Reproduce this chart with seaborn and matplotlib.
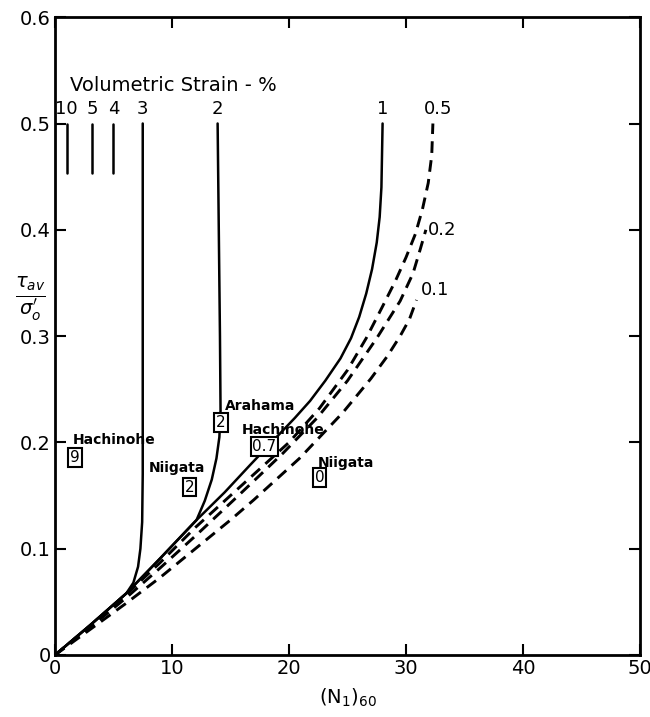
import numpy as np
import pandas as pd
import seaborn as sns
import matplotlib.pyplot as plt
import matplotlib.transforms as mtrans

# --- curvas de deformação volumétrica (leitura do gráfico) ---
c1_x = [0, 3, 6.1, 9, 12.1, 14.5, 16.7, 19.2, 20.5, 21.8, 23.1, 24.4, 25.3, 26.0, 26.6, 27.1, 27.5, 27.75, 27.9, 28.0]
c1_y = [0, 0.028, 0.058, 0.091, 0.127, 0.153, 0.179, 0.208, 0.223, 0.239, 0.258, 0.279, 0.298, 0.318, 0.340, 0.363, 0.388, 0.412, 0.440, 0.500]

c2_x = [0, 3, 6.1, 9, 12.1, 12.8, 13.4, 13.8, 14.05, 14.15, 14.1, 14.0, 13.9]
c2_y = [0, 0.028, 0.058, 0.091, 0.127, 0.145, 0.165, 0.185, 0.205, 0.230, 0.300, 0.400, 0.500]

c3_x = [0, 3, 6.1, 6.7, 7.1, 7.3, 7.45, 7.5, 7.5]
c3_y = [0, 0.028, 0.058, 0.068, 0.083, 0.100, 0.125, 0.170, 0.500]

d05_x = [0, 3, 6, 9, 12, 15, 17.5, 20, 22.6, 25, 26.6, 28.0, 29.1, 30.0, 30.8, 31.4, 31.9, 32.2, 32.3]
d05_y = [0, 0.027, 0.056, 0.087, 0.120, 0.150, 0.175, 0.200, 0.232, 0.268, 0.298, 0.328, 0.352, 0.374, 0.396, 0.419, 0.444, 0.470, 0.500]

d02_x = [0, 3, 6, 9, 12, 15.2, 17.5, 19.5, 22.4, 25, 27.5, 29.5, 30.6, 31.2, 31.7]
d02_y = [0, 0.026, 0.053, 0.082, 0.112, 0.145, 0.169, 0.190, 0.223, 0.258, 0.298, 0.333, 0.359, 0.381, 0.400]

d01_x = [0, 3, 6, 9, 12, 15, 17, 20.9, 24.6, 27, 28.4, 29.5, 30.3, 30.9]
d01_y = [0, 0.024, 0.048, 0.073, 0.100, 0.127, 0.146, 0.185, 0.228, 0.260, 0.281, 0.300, 0.316, 0.334]

# traços curtos para 10, 5 e 4 %
short_x = [1.0, 3.2, 5.0]
short_labels = ["10", "5", "4"]
short_y = [0.453, 0.500]

# --- casos de campo ---
site_names = ["Hachinohe", "Niigata", "Arahama", "Hachinohe", "Niigata"]
site_name_x = [1.5, 8.0, 14.5, 16.0, 22.5]
site_name_y = [0.202, 0.176, 0.234, 0.212, 0.181]
site_vals = ["9", "2", "2", "0.7", "0"]
site_x = [1.7, 11.5, 14.2, 17.9, 22.6]
site_y = [0.186, 0.158, 0.219, 0.196, 0.167]

x_ticks = [0, 10, 20, 30, 40, 50]
y_ticks = [0, 0.1, 0.2, 0.3, 0.4, 0.5, 0.6]
y_ticklabels = ["0", "0.1", "0.2", "0.3", "0.4", "0.5", "0.6"]

# === plot ===
sns.set_style("ticks")
plt.rcParams["font.family"] = ["DejaVu Sans"]
for k in ["text.color", "axes.labelcolor", "xtick.color", "ytick.color", "axes.edgecolor"]:
    plt.rcParams[k] = "black"

fig = plt.figure(figsize=(6.5, 7.17), dpi=100)
ax = fig.add_axes([0.0846, 0.0865, 0.9, 0.8895])

solid = [(c1_x, c1_y), (c2_x, c2_y), (c3_x, c3_y)]
dashed = [(d05_x, d05_y), (d02_x, d02_y), (d01_x, d01_y)]

for cx, cy in solid:
    sns.lineplot(x=cx, y=cy, sort=False, color="black", lw=1.8, ax=ax, estimator=None)
for cx, cy in dashed:
    sns.lineplot(x=cx, y=cy, sort=False, color="black", lw=2.1, ax=ax,
                 estimator=None).lines[-1].set_dashes((4, 2.5))

for sx in short_x:
    sns.lineplot(x=[sx, sx], y=short_y, color="black", lw=1.8, ax=ax, estimator=None)

# rótulos das curvas
lab_kw = dict(fontsize=13, ha="center", va="bottom")
for sx, lab in zip(short_x, short_labels):
    ax.text(sx, 0.505, lab, **lab_kw)
ax.text(7.5, 0.505, "3", **lab_kw)
ax.text(13.9, 0.505, "2", **lab_kw)
ax.text(28.0, 0.505, "1", **lab_kw)
ax.text(31.5, 0.505, "0.5", fontsize=13, ha="left", va="bottom")
ax.text(31.9, 0.400, "0.2", fontsize=13, ha="left", va="center")
ax.text(31.3, 0.343, "0.1", fontsize=13, ha="left", va="center")
ax.text(1.3, 0.536, "Volumetric Strain - %", fontsize=14, ha="left", va="center")

# casos de campo
for nm, nx, ny in zip(site_names, site_name_x, site_name_y):
    ax.text(nx, ny, nm, fontsize=10, fontweight="bold", ha="left", va="center")
for v, sx, sy in zip(site_vals, site_x, site_y):
    ax.text(sx, sy, v, fontsize=11, ha="center", va="center",
            bbox=dict(boxstyle="square,pad=0.12", fc="white", ec="black", lw=1.5))

ax.set_xlim(0, 50)
ax.set_ylim(0, 0.6)
ax.set_xticks(x_ticks)
ax.set_xticklabels([str(t) for t in x_ticks])
ax.set_yticks(y_ticks)
ax.set_yticklabels(y_ticklabels)
ax.tick_params(direction="in", length=8, width=1.5, labelsize=14,
               top=True, right=True, pad=3, colors="black")
for sp in ax.spines.values():
    sp.set_linewidth(2)
    sp.set_color("black")

ax.set_xlabel(r"(N$_1$)$_{60}$", fontsize=14, labelpad=6)
ax.set_ylabel("")
trans = mtrans.blended_transform_factory(ax.transAxes, ax.transData)
ax.text(-0.043, 0.335, r"$\frac{\tau_{av}}{\sigma_o^{\prime}}$", fontsize=20,
        ha="center", va="center", transform=trans)

fig.savefig("out.png", dpi=100)
